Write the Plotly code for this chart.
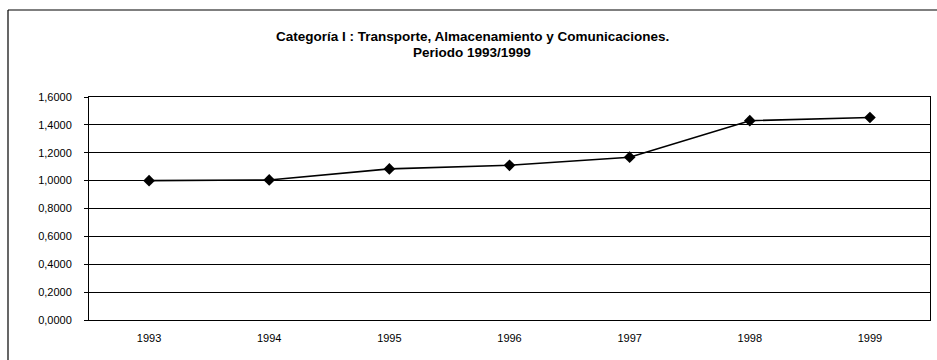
import plotly.graph_objects as go

# Index values for Category I, 1993-1999
years = ["1993", "1994", "1995", "1996", "1997", "1998", "1999"]
index_values = [1.0000, 1.0050, 1.0840, 1.1100, 1.1680, 1.4300, 1.4530]
y_ticks = [0.0, 0.2, 0.4, 0.6, 0.8, 1.0, 1.2, 1.4, 1.6]

title_lines = ["Categoría I : Transporte, Almacenamiento y Comunicaciones.",
               "Periodo 1993/1999"]

W, H = 937, 360
L, R, T, B = 89, 7, 97, 40
pw, ph = W - L - R, H - T - B

def px_x(px):
    return (px - L) / pw

def px_y(py):
    return (H - B - py) / ph

fig = go.Figure()
fig.add_trace(go.Scatter(
    x=years, y=index_values, mode="lines+markers",
    line=dict(color="black", width=1.6),
    marker=dict(symbol="diamond", size=9, color="black"),
    showlegend=False,
))

# two-line heading, placed as annotations for tight line spacing
annotations = []
for text, ypx in zip(title_lines, [37, 52]):
    annotations.append(dict(
        text=f"<b>{text}</b>", xref="paper", yref="paper",
        x=px_x(472), y=px_y(ypx), xanchor="center", yanchor="middle",
        showarrow=False, font=dict(size=13.5, color="black"),
    ))

fig.update_layout(
    width=W, height=H,
    margin=dict(l=L, r=R, t=T, b=B),
    paper_bgcolor="white", plot_bgcolor="white",
    separators=",.",
    font=dict(family="Liberation Sans, Arial, sans-serif", size=11, color="black"),
    annotations=annotations,
    xaxis=dict(
        type="category", showgrid=False, showline=True, linecolor="black",
        linewidth=1, mirror=True, ticks="", tickfont=dict(size=11),
        range=[-0.5, 6.5], ticklabelstandoff=8,
    ),
    yaxis=dict(
        range=[0, 1.6], tickvals=y_ticks, tickformat=".4f",
        showgrid=True, gridcolor="black", gridwidth=1,
        showline=True, linecolor="black", linewidth=1, mirror=True,
        ticks="outside", ticklen=4, tickcolor="black",
        tickfont=dict(size=11), zeroline=False, ticklabelstandoff=10,
    ),
    shapes=[
        dict(type="line", xref="paper", yref="paper",
             x0=px_x(8), x1=px_x(8), y0=px_y(10), y1=px_y(370),
             line=dict(color="black", width=1.2)),
        dict(type="line", xref="paper", yref="paper",
             x0=px_x(8), x1=px_x(945), y0=px_y(10), y1=px_y(10),
             line=dict(color="black", width=1.2)),
    ],
)

fig.write_html("out.html")
